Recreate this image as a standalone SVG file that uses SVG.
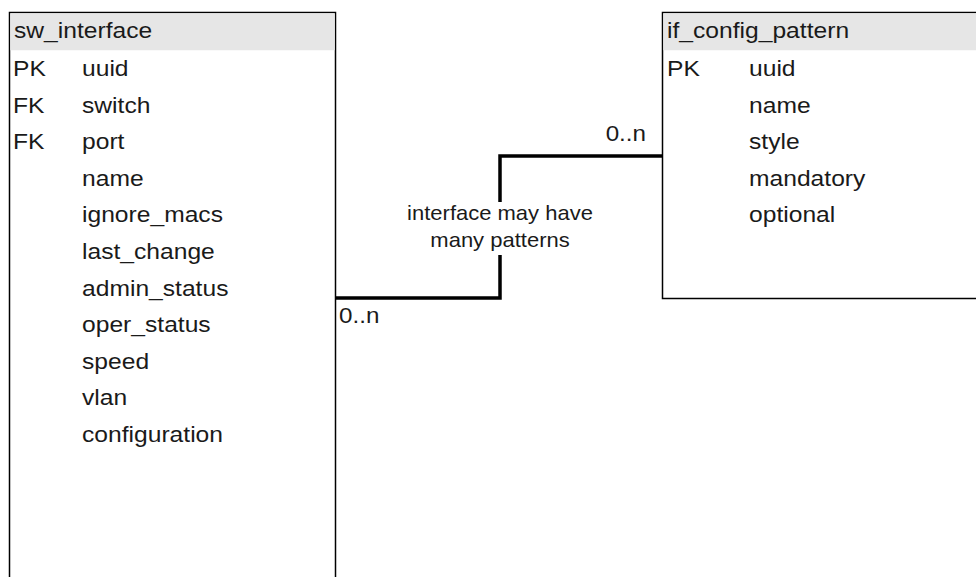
<svg xmlns="http://www.w3.org/2000/svg" width="976" height="577" viewBox="0 0 976 577">
<style>
.t{font-family:"Liberation Sans",Arial,sans-serif;font-size:22px;fill:#1a1a1a}
.l{font-family:"Liberation Sans",Arial,sans-serif;font-size:20px;fill:#1a1a1a;text-anchor:middle}
.box{fill:#ffffff;stroke:#000;stroke-width:1.5}
.hdr{fill:#e6e6e6;stroke:none}
.edge{fill:none;stroke:#000;stroke-width:3.5}
</style>
<rect width="976" height="577" fill="#ffffff"/>
<g id="sw_interface">
<rect class="box" x="9.5" y="12.5" width="326" height="600"/>
<rect class="hdr" x="10.25" y="13.25" width="324.5" height="37"/>
<text class="t" transform="translate(14,38) scale(1.12 1)">sw_interface</text>
<text class="t" transform="translate(13,76) scale(1.12 1)">PK</text>
<text class="t" transform="translate(82,76) scale(1.12 1)">uuid</text>
<text class="t" transform="translate(13,112.6) scale(1.12 1)">FK</text>
<text class="t" transform="translate(82,112.6) scale(1.12 1)">switch</text>
<text class="t" transform="translate(13,149.2) scale(1.12 1)">FK</text>
<text class="t" transform="translate(82,149.2) scale(1.12 1)">port</text>
<text class="t" transform="translate(82,185.8) scale(1.12 1)">name</text>
<text class="t" transform="translate(82,222.4) scale(1.12 1)">ignore_macs</text>
<text class="t" transform="translate(82,259) scale(1.12 1)">last_change</text>
<text class="t" transform="translate(82,295.6) scale(1.12 1)">admin_status</text>
<text class="t" transform="translate(82,332.2) scale(1.12 1)">oper_status</text>
<text class="t" transform="translate(82,368.8) scale(1.12 1)">speed</text>
<text class="t" transform="translate(82,405.4) scale(1.12 1)">vlan</text>
<text class="t" transform="translate(82,442) scale(1.12 1)">configuration</text>
</g>
<g id="if_config_pattern">
<rect class="box" x="662.5" y="12.5" width="330" height="286"/>
<rect class="hdr" x="663.25" y="13.25" width="320" height="37"/>
<text class="t" transform="translate(667,38) scale(1.12 1)">if_config_pattern</text>
<text class="t" transform="translate(667,76) scale(1.12 1)">PK</text>
<text class="t" transform="translate(749,76) scale(1.12 1)">uuid</text>
<text class="t" transform="translate(749,112.6) scale(1.12 1)">name</text>
<text class="t" transform="translate(749,149.2) scale(1.12 1)">style</text>
<text class="t" transform="translate(749,185.8) scale(1.12 1)">mandatory</text>
<text class="t" transform="translate(749,222.4) scale(1.12 1)">optional</text>
</g>
<g id="connectors">
<path class="edge" d="M336,298 H500 V156 H663"/>
<rect x="400" y="202" width="200" height="53" fill="#ffffff"/>
<text class="l" transform="translate(500,220) scale(1.1 1)">interface may have</text>
<text class="l" transform="translate(500,246.5) scale(1.1 1)">many patterns</text>
<text class="t" transform="translate(339,323) scale(1.1 1)">0..n</text>
<text class="t" transform="translate(646,141) scale(1.1 1)" text-anchor="end">0..n</text>
</g>
</svg>
